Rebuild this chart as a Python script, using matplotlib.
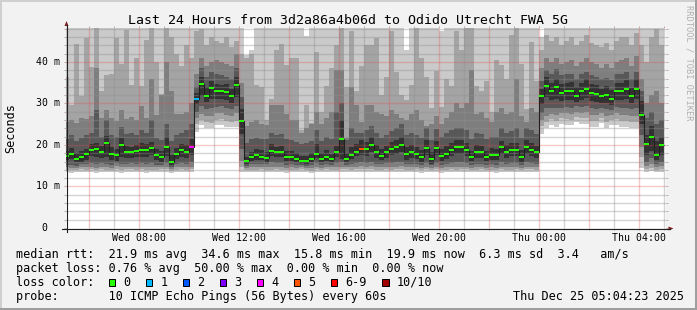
import numpy as np
import matplotlib
matplotlib.use("Agg")
import matplotlib.pyplot as plt
from matplotlib.patches import Rectangle, Polygon
from matplotlib.lines import Line2D
import matplotlib.transforms as mtransforms

# ---------------- data ----------------
step_start = 5.0          # first 12-minute step starts Wed 05:00 (hours since Wed 00:00)
step_hours = 0.2
window = (5.0731, 29.0731)  # Wed 05:04:23 .. Thu 05:04:23
y_top = 48.19

median = [17.3, 17.9, 16.7, 17.1, 17.9, 18.9, 19.0, 18.2, 20.6, 17.9, 17.6, 20.1, 18.4, 18.2, 18.6, 18.8, 18.8, 19.3, 17.6, 17.1,
          19.4, 15.8, 17.9, 18.7, 18.2, 19.5, 31.2, 34.6, 31.9, 33.7, 33.0, 33.0, 32.8, 31.7, 34.5, 25.8, 16.1, 17.0, 17.5, 17.2,
          16.8, 18.6, 18.2, 18.4, 17.1, 17.0, 16.7, 16.1, 16.1, 16.6, 17.9, 16.6, 17.0, 16.6, 18.2, 21.5, 16.6, 17.6, 18.4, 19.0,
          19.0, 20.1, 18.4, 17.4, 18.2, 19.1, 19.5, 20.1, 17.9, 18.2, 17.9, 17.1, 19.3, 16.6, 19.3, 17.4, 17.9, 18.9, 19.4, 19.5,
          18.9, 17.0, 18.4, 18.2, 17.1, 17.5, 17.5, 19.4, 18.2, 18.9, 18.9, 17.0, 19.5, 18.9, 18.2, 31.9, 34.2, 32.9, 33.9, 32.6,
          32.9, 32.9, 31.9, 32.9, 33.6, 32.6, 32.4, 31.7, 32.1, 31.1, 32.9, 32.9, 33.4, 31.7, 33.4, 27.3, 20.3, 22.0, 17.5, 19.9]

loss = [0, 0, 0, 0, 0, 0, 0, 0, 0, 0, 0, 0, 0, 0, 0, 0, 0, 0, 0, 0,
        0, 0, 0, 0, 0, 4, 1, 0, 0, 0, 0, 0, 0, 0, 0, 0, 0, 0, 0, 0,
        0, 0, 0, 0, 0, 0, 0, 0, 0, 0, 0, 0, 0, 0, 0, 0, 0, 0, 0, 5,
        0, 0, 0, 0, 0, 0, 0, 0, 0, 0, 0, 0, 0, 0, 0, 0, 0, 0, 0, 0,
        0, 0, 0, 0, 0, 0, 0, 0, 0, 0, 0, 0, 0, 0, 0, 0, 0, 0, 0, 0,
        0, 0, 0, 0, 0, 0, 0, 0, 0, 0, 0, 0, 0, 0, 0, 0, 0, 0, 0, 0]

ping1 = [13.5, 13.3, 13.4, 13.6, 13.4, 13.5, 13.3, 13.6, 13.5, 13.4, 13.6, 13.3, 13.5, 13.6, 13.4, 13.5, 13.3, 13.5, 13.4, 13.6,
         13.6, 13.3, 13.5, 13.6, 13.4, 13.5, 23.2, 24.8, 24.0, 24.0, 24.7, 24.7, 24.3, 24.3, 24.4, 13.6, 13.4, 13.5, 13.4, 13.6,
         13.5, 13.4, 13.6, 13.5, 13.3, 13.5, 13.4, 13.6, 13.5, 13.3, 13.5, 13.4, 13.6, 13.5, 13.4, 13.5, 13.6, 13.4, 13.5, 13.6,
         13.5, 13.6, 13.4, 13.5, 13.6, 13.4, 13.5, 13.6, 13.5, 13.4, 13.5, 13.3, 13.6, 13.4, 13.5, 13.3, 13.5, 13.6, 13.4, 13.5,
         13.5, 13.4, 13.5, 13.6, 13.4, 13.5, 13.3, 13.6, 13.5, 13.4, 13.5, 13.4, 13.6, 13.5, 13.4, 22.7, 24.0, 24.8, 24.4, 25.0,
         24.8, 24.8, 25.6, 25.0, 25.0, 24.4, 24.4, 25.3, 24.0, 24.8, 24.8, 24.4, 24.4, 24.0, 24.0, 14.5, 13.6, 13.8, 13.4, 13.6]
ping2 = [14.0, 13.9, 14.0, 14.1, 14.0, 14.1, 13.9, 14.2, 14.0, 13.9, 14.2, 13.9, 14.1, 14.1, 14.0, 14.1, 13.9, 14.0, 14.0, 14.2,
         14.2, 13.8, 14.0, 14.1, 14.0, 14.1, 25.0, 26.0, 25.6, 25.4, 26.0, 26.2, 25.8, 25.6, 25.9, 14.6, 13.9, 14.0, 14.0, 14.1,
         14.0, 14.0, 14.1, 14.0, 13.9, 14.0, 13.9, 14.1, 14.0, 13.8, 14.1, 13.9, 14.1, 14.0, 14.0, 14.1, 14.1, 14.0, 14.1, 14.2,
         14.1, 14.2, 14.0, 14.0, 14.1, 14.0, 14.1, 14.2, 14.0, 14.0, 14.1, 13.9, 14.2, 13.9, 14.1, 13.9, 14.0, 14.1, 14.0, 14.1,
         14.1, 13.9, 14.0, 14.1, 13.9, 14.0, 13.9, 14.2, 14.0, 14.0, 14.1, 13.9, 14.2, 14.1, 14.0, 24.5, 25.5, 26.2, 25.8, 26.4,
         26.2, 26.0, 26.8, 26.4, 26.5, 25.8, 25.8, 26.6, 25.5, 26.0, 26.2, 25.8, 25.8, 25.6, 25.5, 17.0, 14.2, 14.5, 14.0, 14.3]
ping3 = [14.6, 14.5, 14.4, 14.7, 14.6, 14.8, 14.5, 14.8, 14.6, 14.5, 14.9, 14.6, 14.7, 14.8, 14.6, 14.8, 14.6, 14.7, 14.6, 14.7,
         14.8, 14.3, 14.6, 14.7, 14.6, 14.8, 26.5, 27.5, 27.0, 27.0, 27.6, 27.8, 27.3, 27.0, 27.6, 16.2, 14.4, 14.6, 14.6, 14.7,
         14.6, 14.7, 14.8, 14.7, 14.5, 14.6, 14.5, 14.6, 14.5, 14.4, 14.8, 14.5, 14.7, 14.6, 14.7, 14.8, 14.6, 14.7, 14.8, 14.9,
         14.8, 14.9, 14.6, 14.6, 14.7, 14.7, 14.8, 14.9, 14.6, 14.7, 14.6, 14.5, 14.8, 14.5, 14.8, 14.5, 14.6, 14.8, 14.7, 14.8,
         14.7, 14.5, 14.6, 14.7, 14.5, 14.6, 14.5, 14.8, 14.7, 14.7, 14.7, 14.5, 14.8, 14.7, 14.6, 26.0, 27.0, 27.5, 27.2, 27.6,
         27.6, 27.4, 28.0, 27.8, 27.9, 27.2, 27.2, 27.8, 27.0, 27.2, 27.6, 27.3, 27.3, 27.0, 27.0, 19.5, 15.0, 15.5, 14.6, 15.0]
ping4 = [15.3, 15.2, 15.0, 15.4, 15.4, 15.6, 15.5, 15.6, 15.4, 15.3, 15.6, 15.4, 15.5, 15.6, 15.5, 15.7, 15.5, 15.6, 15.3, 15.3,
         15.7, 14.8, 15.4, 15.6, 15.4, 15.9, 28.0, 29.3, 28.6, 28.8, 29.2, 29.4, 29.0, 28.6, 29.3, 19.0, 15.0, 15.4, 15.5, 15.5,
         15.4, 15.8, 15.6, 15.6, 15.3, 15.4, 15.2, 15.1, 15.0, 15.2, 15.6, 15.3, 15.4, 15.3, 15.6, 15.9, 15.3, 15.5, 15.7, 15.8,
         15.7, 15.9, 15.5, 15.4, 15.6, 15.6, 15.8, 16.0, 15.4, 15.5, 15.4, 15.2, 15.7, 15.1, 15.7, 15.3, 15.5, 15.7, 15.8, 15.8,
         15.7, 15.3, 15.5, 15.5, 15.3, 15.4, 15.3, 15.8, 15.5, 15.7, 15.6, 15.3, 15.8, 15.6, 15.5, 27.8, 28.8, 29.0, 29.0, 29.0,
         29.2, 29.0, 29.3, 29.2, 29.5, 28.8, 28.7, 29.0, 28.6, 28.5, 29.2, 28.9, 29.0, 28.6, 28.8, 22.5, 16.0, 16.8, 15.4, 16.0]
ping5 = [16.3, 16.6, 15.8, 16.0, 16.5, 17.3, 17.2, 16.8, 17.2, 16.4, 16.2, 17.0, 16.9, 16.8, 17.0, 17.2, 17.1, 17.6, 16.3, 16.0,
         17.4, 15.3, 16.6, 17.2, 16.8, 17.6, 29.8, 31.8, 30.4, 31.2, 31.0, 31.2, 30.8, 30.0, 31.5, 22.6, 15.4, 16.1, 16.5, 16.3,
         16.0, 17.4, 17.0, 17.2, 16.2, 16.2, 15.9, 15.6, 15.5, 15.8, 16.9, 15.9, 16.2, 15.8, 17.0, 16.6, 15.9, 16.7, 17.3, 17.6,
         17.4, 18.2, 16.9, 16.3, 16.9, 17.5, 17.8, 18.3, 16.5, 16.9, 16.6, 16.0, 17.6, 15.5, 17.6, 16.2, 16.7, 17.3, 17.8, 17.9,
         17.3, 16.1, 16.8, 16.9, 16.2, 16.4, 16.5, 17.8, 16.9, 17.3, 17.4, 16.0, 17.9, 17.3, 16.9, 29.8, 31.5, 30.8, 31.2, 30.6,
         30.9, 30.8, 30.3, 30.9, 31.3, 30.5, 30.3, 30.0, 30.2, 29.6, 30.8, 30.8, 31.1, 30.0, 31.0, 25.0, 17.5, 18.5, 16.3, 17.5]
ping6 = [18.6, 19.3, 18.0, 18.5, 19.1, 20.3, 20.6, 19.7, 22.2, 19.4, 19.1, 21.7, 19.8, 19.6, 20.1, 20.4, 20.3, 20.8, 19.0, 18.5,
         22.0, 17.6, 19.3, 20.2, 20.0, 21.5, 32.5, 36.5, 34.0, 35.5, 34.8, 34.5, 34.6, 33.5, 36.5, 28.6, 17.2, 18.4, 19.0, 18.8,
         18.2, 20.2, 19.6, 19.8, 18.6, 18.5, 18.0, 17.4, 17.3, 18.1, 20.2, 18.0, 18.7, 17.9, 19.8, 26.0, 18.0, 19.6, 20.2, 21.2,
         20.8, 22.0, 20.0, 19.0, 19.8, 20.8, 21.3, 22.0, 19.6, 20.0, 19.4, 18.8, 21.2, 18.2, 21.0, 19.0, 19.8, 20.6, 21.2, 21.3,
         20.6, 18.6, 20.1, 19.8, 18.6, 19.2, 19.0, 21.0, 19.9, 20.5, 20.6, 18.8, 21.2, 20.4, 19.8, 33.5, 36.5, 35.0, 36.0, 34.7,
         35.0, 35.2, 34.0, 35.0, 35.8, 34.8, 34.5, 33.6, 34.1, 33.2, 35.0, 35.0, 35.7, 33.8, 35.8, 30.5, 22.5, 24.5, 21.0, 22.0]
ping7 = [21.5, 22.5, 21.0, 21.8, 22.4, 22.8, 28.5, 21.9, 26.0, 22.5, 22.0, 24.3, 22.6, 22.8, 22.4, 23.5, 22.9, 26.0, 21.6, 21.3,
         25.0, 21.0, 22.5, 23.0, 23.5, 25.0, 34.0, 38.5, 36.5, 37.5, 37.0, 36.8, 36.5, 35.8, 38.5, 31.5, 20.5, 21.4, 21.8, 21.5,
         21.5, 23.0, 22.5, 22.6, 21.5, 21.2, 20.8, 20.3, 20.4, 21.0, 23.5, 21.0, 22.0, 21.5, 28.0, 30.0, 21.2, 24.0, 23.0, 22.8,
         23.5, 24.5, 23.0, 21.8, 22.5, 23.4, 24.0, 25.0, 22.4, 23.0, 22.5, 21.8, 24.0, 21.2, 23.8, 22.0, 22.8, 23.5, 24.2, 24.0,
         23.5, 21.5, 23.0, 22.6, 21.5, 22.0, 22.0, 24.0, 22.8, 23.4, 24.0, 21.8, 24.2, 23.6, 22.6, 35.5, 38.0, 37.0, 38.2, 36.8,
         37.0, 37.0, 36.0, 37.2, 37.5, 36.8, 36.5, 36.0, 36.2, 35.6, 37.0, 37.2, 37.6, 36.0, 37.5, 33.0, 26.5, 28.0, 25.0, 26.0]
ping8 = [25.5, 26.0, 25.2, 26.5, 26.2, 27.0, 38.5, 26.4, 28.5, 26.6, 25.9, 28.5, 26.3, 26.8, 26.0, 29.4, 26.5, 36.0, 27.3, 32.0,
         40.0, 33.0, 27.5, 27.5, 28.0, 30.0, 37.0, 41.0, 39.0, 40.0, 40.5, 40.0, 39.5, 39.0, 42.0, 35.0, 24.5, 25.5, 26.0, 25.0,
         24.8, 29.7, 29.7, 29.7, 27.4, 26.0, 26.0, 23.0, 24.0, 25.0, 28.0, 25.0, 26.5, 28.0, 38.0, 38.0, 21.8, 34.0, 29.7, 25.5,
         29.7, 29.7, 28.0, 27.4, 27.0, 28.5, 27.5, 26.5, 26.0, 27.5, 28.5, 26.0, 24.5, 25.0, 27.0, 25.0, 26.5, 28.0, 30.0, 29.0,
         30.0, 38.0, 27.5, 28.0, 26.5, 25.5, 28.0, 29.0, 27.5, 28.0, 36.0, 27.0, 25.5, 29.0, 28.0, 38.5, 41.0, 40.0, 41.0, 39.5,
         40.0, 40.5, 39.0, 40.0, 41.0, 40.0, 39.5, 38.6, 39.5, 38.5, 40.0, 40.5, 41.0, 39.0, 41.5, 36.0, 30.0, 32.0, 33.0, 30.0]
ping9 = [36.5, 29.7, 44.3, 31.9, 45.8, 38.9, 49.0, 33.1, 36.9, 37.0, 45.7, 39.4, 47.6, 34.5, 40.9, 34.2, 45.3, 49.0, 40.1, 32.2,
         49.0, 46.0, 42.0, 39.0, 44.0, 41.0, 47.5, 48.0, 44.0, 46.0, 45.0, 44.5, 46.0, 43.5, 45.0, 42.0, 41.0, 42.0, 34.5, 34.0,
         26.0, 31.0, 43.0, 44.4, 39.3, 40.9, 40.9, 23.6, 29.7, 25.2, 42.3, 28.0, 34.1, 38.5, 44.0, 49.0, 34.0, 47.5, 33.0, 39.0,
         44.0, 44.0, 45.7, 32.0, 36.5, 47.5, 37.7, 32.0, 30.9, 34.5, 49.0, 41.0, 36.5, 28.9, 37.9, 29.2, 35.8, 34.1, 47.5, 43.0,
         48.5, 49.0, 34.1, 32.9, 35.3, 28.0, 40.5, 39.3, 36.0, 46.5, 49.0, 39.6, 28.6, 44.9, 35.3, 43.0, 46.5, 45.0, 46.0, 44.0,
         45.0, 46.0, 44.0, 45.0, 46.5, 44.5, 44.0, 43.5, 44.5, 43.0, 45.0, 46.0, 46.0, 44.0, 47.0, 44.0, 40.0, 46.0, 48.0, 44.0]
ping10 = [50.0, 50.0, 50.0, 50.0, 50.0, 50.0, 50.0, 50.0, 50.0, 50.0, 50.0, 50.0, 50.0, 50.0, 50.0, 50.0, 50.0, 50.0, 50.0, 50.0,
          50.0, 50.0, 50.0, 50.0, 50.0, 50.0, 50.0, 50.0, 50.0, 50.0, 50.0, 50.0, 50.0, 50.0, 50.0, 50.0, 41.7, 43.0, 50.0, 50.0,
          50.0, 50.0, 50.0, 50.0, 50.0, 50.0, 50.0, 50.0, 46.2, 50.0, 50.0, 50.0, 50.0, 50.0, 50.0, 50.0, 50.0, 50.0, 50.0, 50.0,
          50.0, 50.0, 50.0, 50.0, 50.0, 50.0, 50.0, 50.0, 43.0, 50.0, 50.0, 50.0, 50.0, 50.0, 50.0, 47.4, 50.0, 50.0, 50.0, 50.0,
          50.0, 50.0, 50.0, 50.0, 50.0, 50.0, 50.0, 50.0, 50.0, 50.0, 50.0, 50.0, 50.0, 50.0, 50.0, 46.0, 50.0, 50.0, 50.0, 50.0,
          50.0, 50.0, 50.0, 50.0, 50.0, 50.0, 50.0, 50.0, 50.0, 50.0, 50.0, 50.0, 50.0, 50.0, 50.0, 50.0, 50.0, 50.0, 50.0, 50.0]

xtick_hours = [8, 12, 16, 20, 24, 28]
xtick_labels = ["Wed 08:00", "Wed 12:00", "Wed 16:00", "Wed 20:00", "Thu 00:00", "Thu 04:00"]
ytick_values = [0, 10, 20, 30, 40]
ytick_labels = ["0", "10 m", "20 m", "30 m", "40 m"]

title = "Last 24 Hours from 3d2a86a4b06d to Odido Utrecht FWA 5G"
rtt_stats = ["21.9 ms avg", "34.6 ms max", "15.8 ms min", "19.9 ms now", "6.3 ms sd", "3.4   am/s"]
loss_stats = ["0.76 % avg", "50.00 % max", "0.00 % min", "0.00 % now"]
loss_labels = ["0", "1", "2", "3", "4", "5", "6-9", "10/10"]
loss_colors = ["#26ff00", "#00b8ff", "#0059ff", "#7e00ff", "#ff00ff", "#ff5500", "#ff0000", "#a10000"]
probe_text = "10 ICMP Echo Pings (56 Bytes) every 60s"
stamp_text = "Thu Dec 25 05:04:23 2025"

# ---------------- drawing ----------------
W, H = 697, 310
fig = plt.figure(figsize=(W / 100, H / 100), dpi=100)
fig.patch.set_facecolor("#f2f2f2")


def FX(px):
    return px / W


def FY(py):
    return 1 - py / H


MONO = "DejaVu Sans Mono"
X0, X1, Y0, Y1 = 66.0, 666.0, 228.0, 28.0
ax = fig.add_axes([FX(X0), FY(Y0), (X1 - X0) / W, (Y0 - Y1) / H])
ax.set_xlim(*window)
ax.set_ylim(0, y_top)
ax.set_facecolor("white")
for s in ax.spines.values():
    s.set_visible(False)

edges = step_start + step_hours * np.arange(len(median) + 1)
bands = [(ping1, ping10, "#cacaca"), (ping2, ping9, "#a4a4a4"), (ping3, ping8, "#7e7e7e"),
         (ping4, ping7, "#585858"), (ping5, ping6, "#323232")]
for lo, hi, c in bands:
    ax.stairs(hi, edges, baseline=lo, fill=True, color=c, lw=0, antialiased=False, zorder=1)

GRID = (0.56, 0.56, 0.56, 0.75)
MGRID = (0.87, 0.31, 0.31, 0.6)
for v in np.arange(2, y_top, 2):
    col = MGRID if v % 10 == 0 else GRID
    ax.axhline(v, color=col, lw=1.0, dashes=(0.72, 0.72), zorder=2, antialiased=True,
               solid_capstyle="butt", dash_capstyle="butt")
for h in range(6, 30):
    col = MGRID if h % 2 == 0 else GRID
    ax.axvline(h, color=col, lw=1.0, dashes=(0.72, 0.72), zorder=2, antialiased=True,
               solid_capstyle="butt", dash_capstyle="butt")

# median line + loss-coloured median marks
ax.stairs(median, edges, baseline=None, color="#202020", lw=0.8, zorder=3)
px_ms = y_top / (Y0 - Y1)
ax.bar(edges[:-1], 2 * px_ms, bottom=np.array(median) - px_ms, width=step_hours, align="edge",
       color=[loss_colors[min(l, 6) if l < 10 else 7] for l in loss], lw=0, zorder=4,
       antialiased=False)

# ticks
ax.set_xticks(range(6, 30))
ax.set_yticks(np.arange(0, y_top, 2))
ax.tick_params(which="both", direction="out", length=1.5, width=0.72, color="#c0a8a8",
               top=True, right=True, labelbottom=False, labelleft=False)

# axis lines and arrows
AXC = (0.12, 0.12, 0.12)
ARR = (0.5, 0.12, 0.12)
fig.add_artist(Line2D([FX(62), FX(670)], [FY(228.5), FY(228.5)], color=AXC, lw=0.8))
fig.add_artist(Line2D([FX(66.5), FX(66.5)], [FY(232), FY(25)], color=AXC, lw=0.8))
fig.add_artist(Polygon([[FX(64.5), FY(26)], [FX(68.5), FY(26)], [FX(66.5), FY(21)]], closed=True,
                       transform=fig.transFigure, color=ARR, lw=0))
fig.add_artist(Polygon([[FX(668.5), FY(226.5)], [FX(668.5), FY(230.5)], [FX(673.5), FY(228.5)]], closed=True,
                       transform=fig.transFigure, color=ARR, lw=0))

# tick labels
xtrans = mtransforms.blended_transform_factory(ax.transData, fig.transFigure)
for h, lab in zip(xtick_hours, xtick_labels):
    ax.text(h, FY(240.7), lab, transform=xtrans, ha="center", va="baseline",
            fontsize=7.1, family=MONO)
ytrans = mtransforms.offset_copy(mtransforms.blended_transform_factory(fig.transFigure, ax.transData),
                                 fig=fig, y=-2.8, units="dots")
for v, lab in zip(ytick_values, ytick_labels):
    s = lab if " " in lab else lab.rjust(2)
    ax.text(FX(36.1), v, s, transform=ytrans, ha="left", va="baseline", fontsize=7.1, family=MONO)

# title and axis label
fig.text(FX(128.3), FY(24), title, fontsize=9.57, family=MONO, va="baseline", ha="left")
fig.text(FX(10.5), FY(128), "Seconds", rotation=90, fontsize=8.49, family=MONO, ha="center", va="center")
fig.text(FX(688.5), FY(5), "RRDTOOL / TOBI OETIKER", rotation=270, fontsize=6.3, family=MONO,
         ha="center", va="top", color="#b0b0b0")

# legend
LX = 16
fs = 8.49
row1 = "median rtt:  " + "  ".join(rtt_stats)
row2 = "packet loss: " + "  ".join(loss_stats)
fig.text(FX(LX), FY(257.7), row1, fontsize=fs, family=MONO, va="baseline")
fig.text(FX(LX), FY(271.7), row2, fontsize=fs, family=MONO, va="baseline")
fig.text(FX(LX), FY(285.7), "loss color:", fontsize=fs, family=MONO, va="baseline")
bx = 108.7
for lab, col in zip(loss_labels, loss_colors):
    fig.add_artist(Rectangle((FX(bx), FY(285.7)), 6.6 / W, 7.0 / H, transform=fig.transFigure,
                             facecolor=col, edgecolor="black", lw=0.72))
    fig.text(FX(bx + 14.6), FY(285.7), lab, fontsize=fs, family=MONO, va="baseline")
    bx += 29.9 + 7.1 * len(lab)
fig.text(FX(LX), FY(300), "probe:       " + probe_text, fontsize=fs, family=MONO, va="baseline")
fig.text(FX(513.0), FY(300), stamp_text, fontsize=fs, family=MONO, va="baseline")

# frame shading
fig.add_artist(Rectangle((0, FY(2)), 1, 2 / H, transform=fig.transFigure, color="#cfcfcf", lw=0))
fig.add_artist(Rectangle((0, 0), 2 / W, 1, transform=fig.transFigure, color="#cfcfcf", lw=0))
fig.add_artist(Rectangle((0, 0), 1, 2 / H, transform=fig.transFigure, color="#9e9e9e", lw=0))
fig.add_artist(Rectangle((FX(695), 0), 2 / W, 1, transform=fig.transFigure, color="#9e9e9e", lw=0))

fig.savefig("out.png", dpi=100, facecolor=fig.get_facecolor())
